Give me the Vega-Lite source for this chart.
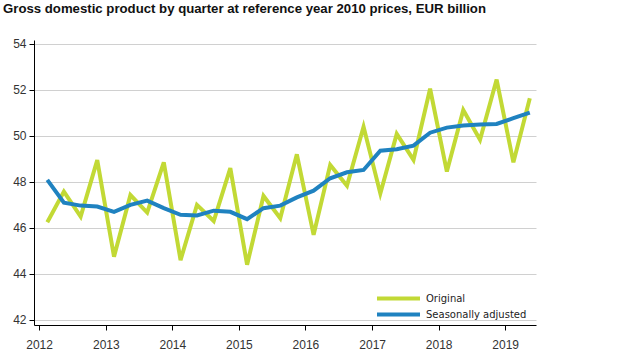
{
  "$schema": "https://vega.github.io/schema/vega-lite/v6.json",
  "width": 502,
  "height": 285,
  "autosize": "none",
  "padding": {"left": 34, "top": 40, "right": 90, "bottom": 27},
  "background": "white",
  "title": {
    "text": "Gross domestic product by quarter at reference year 2010 prices, EUR billion",
    "anchor": "start",
    "frame": "group",
    "font": "Liberation Sans",
    "fontSize": 13.2,
    "fontWeight": "bold",
    "color": "#111111",
    "dx": -31,
    "offset": 22
  },
  "config": {
    "view": {"stroke": null},
    "axis": {"labelFont": "Liberation Sans", "labelFontSize": 12, "labelColor": "#333333"}
  },
  "data": {
    "values": [
      {"date": "2012-02-15", "series": "Original", "value": 46.25},
      {"date": "2012-05-16", "series": "Original", "value": 47.58},
      {"date": "2012-08-16", "series": "Original", "value": 46.49},
      {"date": "2012-11-15", "series": "Original", "value": 48.95},
      {"date": "2013-02-15", "series": "Original", "value": 44.75},
      {"date": "2013-05-16", "series": "Original", "value": 47.43},
      {"date": "2013-08-16", "series": "Original", "value": 46.67},
      {"date": "2013-11-15", "series": "Original", "value": 48.85},
      {"date": "2014-02-15", "series": "Original", "value": 44.6},
      {"date": "2014-05-16", "series": "Original", "value": 47.0},
      {"date": "2014-08-16", "series": "Original", "value": 46.3},
      {"date": "2014-11-15", "series": "Original", "value": 48.6},
      {"date": "2015-02-15", "series": "Original", "value": 44.4},
      {"date": "2015-05-16", "series": "Original", "value": 47.39},
      {"date": "2015-08-16", "series": "Original", "value": 46.42},
      {"date": "2015-11-15", "series": "Original", "value": 49.2},
      {"date": "2016-02-15", "series": "Original", "value": 45.7},
      {"date": "2016-05-16", "series": "Original", "value": 48.74},
      {"date": "2016-08-16", "series": "Original", "value": 47.83},
      {"date": "2016-11-15", "series": "Original", "value": 50.4},
      {"date": "2017-02-15", "series": "Original", "value": 47.5},
      {"date": "2017-05-16", "series": "Original", "value": 50.09},
      {"date": "2017-08-16", "series": "Original", "value": 48.96},
      {"date": "2017-11-15", "series": "Original", "value": 52.05},
      {"date": "2018-02-15", "series": "Original", "value": 48.45},
      {"date": "2018-05-16", "series": "Original", "value": 51.13},
      {"date": "2018-08-16", "series": "Original", "value": 49.83},
      {"date": "2018-11-15", "series": "Original", "value": 52.45},
      {"date": "2019-02-15", "series": "Original", "value": 48.85},
      {"date": "2019-05-16", "series": "Original", "value": 51.64},
      {"date": "2012-02-15", "series": "Seasonally adjusted", "value": 48.09},
      {"date": "2012-05-16", "series": "Seasonally adjusted", "value": 47.1},
      {"date": "2012-08-16", "series": "Seasonally adjusted", "value": 46.97},
      {"date": "2012-11-15", "series": "Seasonally adjusted", "value": 46.93},
      {"date": "2013-02-15", "series": "Seasonally adjusted", "value": 46.7},
      {"date": "2013-05-16", "series": "Seasonally adjusted", "value": 47.0},
      {"date": "2013-08-16", "series": "Seasonally adjusted", "value": 47.19},
      {"date": "2013-11-15", "series": "Seasonally adjusted", "value": 46.86},
      {"date": "2014-02-15", "series": "Seasonally adjusted", "value": 46.57},
      {"date": "2014-05-16", "series": "Seasonally adjusted", "value": 46.54},
      {"date": "2014-08-16", "series": "Seasonally adjusted", "value": 46.75},
      {"date": "2014-11-15", "series": "Seasonally adjusted", "value": 46.7},
      {"date": "2015-02-15", "series": "Seasonally adjusted", "value": 46.38},
      {"date": "2015-05-16", "series": "Seasonally adjusted", "value": 46.86},
      {"date": "2015-08-16", "series": "Seasonally adjusted", "value": 46.97},
      {"date": "2015-11-15", "series": "Seasonally adjusted", "value": 47.33},
      {"date": "2016-02-15", "series": "Seasonally adjusted", "value": 47.62},
      {"date": "2016-05-16", "series": "Seasonally adjusted", "value": 48.16},
      {"date": "2016-08-16", "series": "Seasonally adjusted", "value": 48.42},
      {"date": "2016-11-15", "series": "Seasonally adjusted", "value": 48.52},
      {"date": "2017-02-15", "series": "Seasonally adjusted", "value": 49.36},
      {"date": "2017-05-16", "series": "Seasonally adjusted", "value": 49.42},
      {"date": "2017-08-16", "series": "Seasonally adjusted", "value": 49.58},
      {"date": "2017-11-15", "series": "Seasonally adjusted", "value": 50.14},
      {"date": "2018-02-15", "series": "Seasonally adjusted", "value": 50.36},
      {"date": "2018-05-16", "series": "Seasonally adjusted", "value": 50.45},
      {"date": "2018-08-16", "series": "Seasonally adjusted", "value": 50.5},
      {"date": "2018-11-15", "series": "Seasonally adjusted", "value": 50.52},
      {"date": "2019-02-15", "series": "Seasonally adjusted", "value": 50.77},
      {"date": "2019-05-16", "series": "Seasonally adjusted", "value": 51.01}
    ]
  },
  "mark": {"type": "line", "strokeWidth": 4, "strokeJoin": "miter", "clip": false},
  "encoding": {
    "x": {
      "field": "date",
      "type": "temporal",
      "scale": {"domain": ["2011-12-04", "2019-06-19"]},
      "axis": {
        "title": null,
        "format": "%Y",
        "tickCount": {"interval": "year", "step": 1},
        "grid": false,
        "domainColor": "#000000",
        "domainWidth": 1,
        "tickColor": "#000000",
        "tickSize": 5,
        "labelPadding": 9,
        "labelFlush": false
      }
    },
    "y": {
      "field": "value",
      "type": "quantitative",
      "scale": {"domain": [41.78, 54.17], "nice": false, "zero": false},
      "axis": {
        "title": null,
        "values": [42, 44, 46, 48, 50, 52, 54],
        "grid": true,
        "gridColor": "#d0d0d0",
        "gridWidth": 1,
        "domainColor": "#000000",
        "tickColor": "#000000",
        "tickSize": 5,
        "labelPadding": 3
      }
    },
    "color": {
      "field": "series",
      "type": "nominal",
      "scale": {"domain": ["Original", "Seasonally adjusted"], "range": ["#c2d935", "#1f82c0"]},
      "legend": {
        "title": null,
        "orient": "none",
        "legendX": 358,
        "legendY": 252,
        "padding": 0,
        "symbolType": "M-5,0H5",
        "symbolSize": 74,
        "symbolStrokeWidth": 4,
        "labelFont": "DejaVu Sans",
        "labelFontSize": 10,
        "labelColor": "#222222",
        "labelOffset": 21,
        "rowPadding": -1
      }
    }
  }
}
